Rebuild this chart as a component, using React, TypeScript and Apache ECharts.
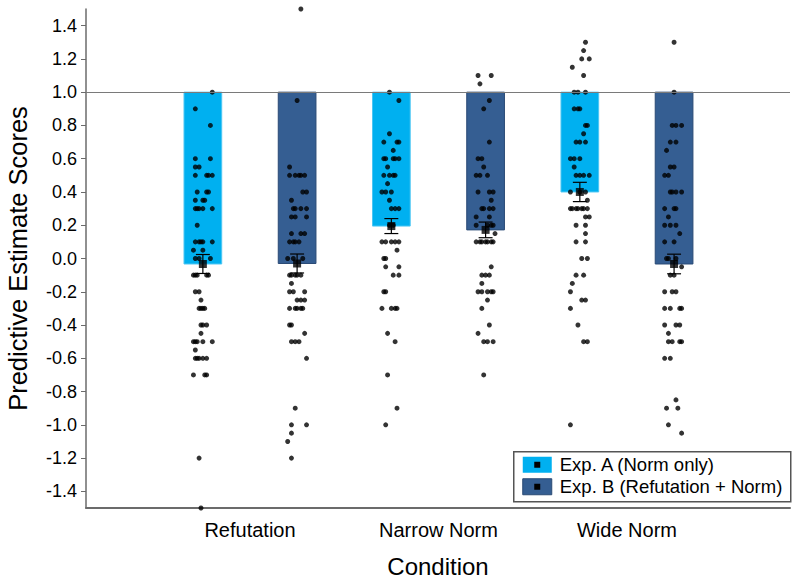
import React, { useEffect, useRef } from "react";
import * as echarts from "echarts";

const categories = ["Refutation", "Narrow Norm", "Wide Norm"];
const seriesNames = ["Exp. A (Norm only)", "Exp. B (Refutation + Norm)"];
const barBase = 1.0;
const meansA = [-0.033, 0.195, 0.4];
const meansB = [-0.03, 0.172, -0.033];
const errA = [0.057, 0.045, 0.058];
const errB = [0.057, 0.047, 0.059];
const yTicks = [-1.4, -1.2, -1.0, -0.8, -0.6, -0.4, -0.2, 0, 0.2, 0.4, 0.6, 0.8, 1.0, 1.2, 1.4];

// individual scores: [value, jitter offsets in hundredths of a category]
const refutationA: [number, number[]][] = [
  [1.0, [5]], [0.9, [-4]], [0.8, [4]], [0.6, [-4, 4]], [0.55, [-4, -2]], [0.5, [-4, 2, 3, 5]],
  [0.4, [-3, 2, 3]], [0.35, [-4, 0, 1]], [0.3, [-4, -3, -2, 0, 5]], [0.2, [-3]],
  [0.1, [-4, -2, -1, 0, 5]], [0.05, [-5, 0]], [0, [-4, -2, 4]], [-0.1, [-5, -4, -3, 2, 3]],
  [-0.2, [-4, -2]], [-0.25, [-1]], [-0.3, [-2, -1, 0, 1]], [-0.4, [-1, 0, 2]], [-0.45, [-1]],
  [-0.5, [-5, -4, -3, 0, 5]], [-0.55, [-4]], [-0.6, [-4, -3, -2, 0, 2]], [-0.7, [-5, 1, 2]],
  [-1.2, [-2]], [-1.5, [-1]],
];
const refutationB: [number, number[]][] = [
  [1.5, [2]], [0.95, [0]], [0.55, [-4]], [0.5, [-4, -1, 1, 2, 4]], [0.4, [3, 5]], [0.35, [-3]],
  [0.3, [-2, -1, 2, 5]], [0.25, [-3, -1, 5]], [0.15, [-3, 2, 4]], [0.1, [-4, -2, -1, 1]],
  [0, [-5, -2, 3]], [-0.1, [-4, -3, -1, 0, 2]], [-0.15, [-3]], [-0.2, [-4, -2, 4]],
  [-0.25, [0, 2, 4]], [-0.3, [-4, -1, 0, 2, 3]], [-0.4, [-4, -3]], [-0.45, [4]],
  [-0.5, [-3, -1, 1]], [-0.6, [5]], [-0.9, [-1]], [-1.0, [-3, 5]], [-1.05, [-3]],
  [-1.1, [-5]], [-1.2, [-3]],
];
const narrowA: [number, number[]][] = [
  [1.0, [-1]], [0.95, [4]], [0.75, [-1]], [0.7, [-4, 3, 4]], [0.65, [1]], [0.6, [-4, -3, 1, 2, 4]],
  [0.55, [-2]], [0.5, [-4, -1, 1, 2]], [0.45, [-2]], [0.4, [-5, -3, 0]], [0.35, [-1]],
  [0.3, [0, 2, 4]], [0.2, [-1, 1]], [0.1, [-5, -3, 0, 2, 4]], [0.05, [3]], [0, [-4, -3]],
  [-0.05, [-3, 4]], [-0.1, [1, 4]], [-0.2, [-4, -3]], [-0.3, [-5, 0, 2, 3]], [-0.45, [-2]],
  [-0.5, [2]], [-0.7, [-2]], [-0.9, [3]], [-1.0, [-3]],
];
const narrowB: [number, number[]][] = [
  [1.1, [-4, 3]], [1.05, [-3]], [0.95, [2]], [0.9, [-1]], [0.7, [2]], [0.6, [-4, -2]], [0.55, [-1]],
  [0.5, [-5, -3, 1]], [0.4, [-4, 2, 4]], [0.35, [3]], [0.3, [-2, -1, 2, 4]], [0.25, [-5, 2]],
  [0.2, [-5, 1, 3, 4]], [0.15, [5]], [0.1, [-5, -3, -2, 0, 1, 3, 4]], [-0.05, [3]],
  [-0.1, [-2, 0, 2]], [-0.15, [-2]], [-0.2, [-4, -2, 1, 3, 4]], [-0.25, [1]], [-0.3, [-2]],
  [-0.4, [2]], [-0.45, [-4]], [-0.5, [-1, 1, 4]], [-0.7, [-1]],
];
const wideA: [number, number[]][] = [
  [1.3, [3]], [1.25, [2]], [1.2, [1, 5]], [1.15, [-4]], [1.1, [2]], [1.0, [-3, -1, 3]],
  [0.9, [-3, -1, 0]], [0.8, [3, 4]], [0.75, [2]], [0.7, [-2, 0, 3]], [0.6, [-5, -3, 0]],
  [0.55, [-3]], [0.5, [-2, 0, 2, 5]], [0.4, [-5, 0, 3]], [0.35, [4]],
  [0.3, [-5, -4, -2, -1, 1, 2, 4]], [0.25, [3, 5]], [0.2, [-2, 3]], [0.15, [3]], [0.1, [-2, 3]],
  [0, [1, 4]], [-0.1, [-2, 2]], [-0.15, [-4]], [-0.2, [-5]], [-0.25, [1, 3]], [-0.3, [-5]],
  [-0.4, [-1]], [-0.5, [2, 4]], [-1.0, [-5]],
];
const wideB: [number, number[]][] = [
  [1.3, [0]], [1.0, [0]], [0.8, [-1, 1, 4]], [0.7, [-2, 1]], [0.65, [-4]], [0.55, [-2, 0]],
  [0.5, [-5, -3]], [0.4, [-2, -1, 1, 4]], [0.3, [-5, 0, 1]], [0.25, [-3]], [0.2, [-5, -2, 1]],
  [0.15, [3]], [0.1, [-5, 0]], [0, [-4, -3, 1]], [-0.05, [4]], [-0.1, [-2, 0]],
  [-0.2, [-5, -1, 1]], [-0.3, [-5, -2, 3, 4]], [-0.4, [-5, 1, 3]], [-0.45, [-3]],
  [-0.5, [-3, -1, 3, 4]], [-0.6, [-5, -2]], [-0.85, [1]], [-0.9, [-4, 2]], [-1.0, [-3]],
  [-1.05, [4]],
];

const pointsA = [refutationA, narrowA, wideA];
const pointsB = [refutationB, narrowB, wideB];

const COLOR_A = "#00B0F0";
const COLOR_B = "#355E92";
const STROKE_B = "#2A4A75";
const AXIS = "#6b6b6b";
const FONT = "'Liberation Sans', Arial, sans-serif";
const OFFSET = 0.25;
const BAR_HALF = 0.1;
const CAP_HALF = 0.037;

function flatten(groups: [number, number[]][][], offset: number) {
  const out: number[][] = [];
  groups.forEach((g, ci) => {
    g.forEach(([v, js]) => {
      js.forEach((j) => out.push([ci + 1 + offset + j / 100, v]));
    });
  });
  return out;
}

export default function App() {
  const ref = useRef<HTMLDivElement>(null);
  useEffect(() => {
    if (!ref.current) return;
    const chart = echarts.init(ref.current, undefined, { renderer: "svg" });

    const barData: number[][] = [];
    const errData: number[][] = [];
    const meanData: number[][] = [];
    categories.forEach((_, i) => {
      barData.push([i + 1 - OFFSET, meansA[i], 0]);
      barData.push([i + 1 + OFFSET, meansB[i], 1]);
      errData.push([i + 1 - OFFSET, meansA[i], errA[i]]);
      errData.push([i + 1 + OFFSET, meansB[i], errB[i]]);
      meanData.push([i + 1 - OFFSET, meansA[i]]);
      meanData.push([i + 1 + OFFSET, meansB[i]]);
    });

    const option: any = {
      animation: false,
      backgroundColor: "#ffffff",
      textStyle: { fontFamily: FONT },
      grid: { left: 86, right: 10, top: 9, bottom: 74, containLabel: false, outerBoundsMode: "none" },
      xAxis: {
        type: "value",
        min: 0.13,
        max: 3.865,
        name: "Condition",
        nameLocation: "middle",
        nameGap: 46,
        nameTextStyle: { fontSize: 24, color: "#000", fontFamily: FONT },
        axisLine: { show: true, onZero: false, lineStyle: { color: AXIS, width: 2 } },
        axisTick: { show: false },
        splitLine: { show: false },
        axisLabel: {
          customValues: [1, 2, 3],
          formatter: (v: number) => categories[Math.round(v) - 1] ?? "",
          fontSize: 20,
          color: "#000",
          margin: 12,
          fontFamily: FONT,
        },
      },
      yAxis: {
        type: "value",
        min: -1.5,
        max: 1.5,
        name: "Predictive Estimate Scores",
        nameLocation: "middle",
        nameGap: 55,
        nameTextStyle: { fontSize: 25.5, color: "#000", fontFamily: FONT },
        axisLine: { show: true, onZero: false, lineStyle: { color: AXIS, width: 1.5 } },
        axisTick: { show: true, customValues: yTicks, length: 5, inside: false, lineStyle: { color: AXIS } },
        splitLine: { show: false },
        axisLabel: {
          customValues: yTicks,
          formatter: (v: number) => v.toFixed(1),
          fontSize: 18,
          color: "#000",
          margin: 9,
          fontFamily: FONT,
        },
      },
      series: [
        {
          type: "custom",
          name: "bars",
          data: barData,
          z: 2,
          renderItem: (_p: any, api: any) => {
            const x = api.value(0);
            const m = api.value(1);
            const idx = api.value(2);
            const p1 = api.coord([x - BAR_HALF, barBase]);
            const p2 = api.coord([x + BAR_HALF, m]);
            return {
              type: "rect",
              shape: { x: p1[0], y: p1[1], width: p2[0] - p1[0], height: p2[1] - p1[1] },
              style: idx === 0
                ? { fill: COLOR_A, stroke: "#4cc6f3", lineWidth: 1 }
                : { fill: COLOR_B, stroke: STROKE_B, lineWidth: 1 },
            };
          },
          markLine: {
            silent: true,
            symbol: "none",
            label: { show: false },
            lineStyle: { color: "#7a7a7a", width: 1.2, type: "solid" },
            data: [{ yAxis: barBase }],
          },
        },
        {
          type: "scatter",
          name: seriesNames[0],
          data: flatten(pointsA, -OFFSET),
          symbol: "circle",
          symbolSize: 5,
          itemStyle: { color: "#000" },
          z: 4,
        },
        {
          type: "scatter",
          name: seriesNames[1],
          data: flatten(pointsB, OFFSET),
          symbol: "circle",
          symbolSize: 5,
          itemStyle: { color: "#000" },
          z: 4,
        },
        {
          type: "custom",
          name: "err",
          data: errData,
          z: 5,
          renderItem: (_p: any, api: any) => {
            const x = api.value(0);
            const m = api.value(1);
            const e = api.value(2);
            const top = api.coord([x, m + e]);
            const bot = api.coord([x, m - e]);
            const l = api.coord([x - CAP_HALF, m])[0];
            const r = api.coord([x + CAP_HALF, m])[0];
            const st = { stroke: "#000", lineWidth: 1.2 };
            return {
              type: "group",
              children: [
                { type: "line", shape: { x1: top[0], y1: top[1], x2: bot[0], y2: bot[1] }, style: st },
                { type: "line", shape: { x1: l, y1: top[1], x2: r, y2: top[1] }, style: st },
                { type: "line", shape: { x1: l, y1: bot[1], x2: r, y2: bot[1] }, style: st },
              ],
            };
          },
        },
        {
          type: "scatter",
          name: "means",
          data: meanData,
          symbol: "rect",
          symbolSize: 8,
          itemStyle: { color: "#000" },
          z: 6,
        },
      ],
      graphic: [
        {
          type: "group",
          left: 513,
          top: 451,
          children: [
            { type: "rect", shape: { x: 0, y: 0, width: 277, height: 50 }, style: { fill: "#fff", stroke: "#555", lineWidth: 1.5 } },
            { type: "rect", shape: { x: 9, y: 5, width: 29, height: 16 }, style: { fill: COLOR_A } },
            { type: "rect", shape: { x: 20.5, y: 10, width: 6, height: 6 }, style: { fill: "#000" } },
            { type: "rect", shape: { x: 9, y: 27, width: 29, height: 16 }, style: { fill: COLOR_B, stroke: STROKE_B, lineWidth: 1 } },
            { type: "rect", shape: { x: 20.5, y: 32, width: 6, height: 6 }, style: { fill: "#000" } },
            { type: "text", x: 46, y: 13, style: { text: seriesNames[0], fontSize: 18.5, fill: "#000", fontFamily: FONT, verticalAlign: "middle" } },
            { type: "text", x: 46, y: 35, style: { text: seriesNames[1], fontSize: 18.5, fill: "#000", fontFamily: FONT, verticalAlign: "middle" } },
          ],
        },
      ],
    };
    chart.setOption(option);
    return () => chart.dispose();
  }, []);
  return <div ref={ref} style={{ width: 800, height: 582, position: "absolute", left: 0, top: 0 }} />;
}
